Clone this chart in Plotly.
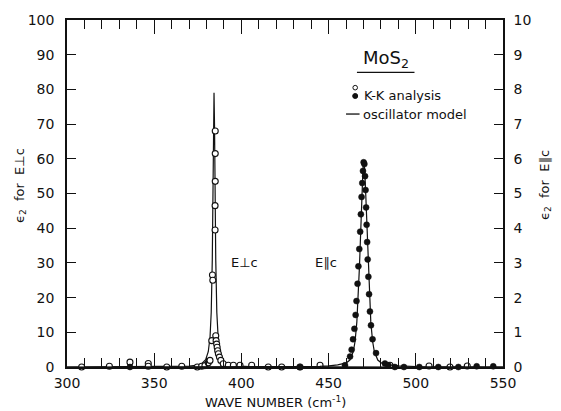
import plotly.graph_objects as go

# ---------------- data ----------------
# K-K analysis, E perpendicular c (open circles, left axis)
wn_perp_kk = [308.4, 324.3, 336.1, 346.6, 346.6, 357.2, 365.8, 371.5, 374.7, 377.2, 379.1,
              381.0, 382.0, 383.0, 383.4, 383.6, 385.0, 385.0, 385.0, 384.9, 384.9,
              385.3, 385.5, 385.8, 386.1, 386.4, 386.8, 387.4, 388.2, 389.6, 392.5,
              395.4, 399.2, 405.9, 415.4, 423.1, 433.6, 445.1, 456.9, 485.2, 507.6,
              519.6, 529.5]
eps_perp_kk = [0.0, 0.2, 1.4, 1.0, 0.2, 0.0, 0.2, -0.3, 0.0, 0.2, 0.4,
               1.2, 1.9, 7.6, 26.5, 25.0, 68.0, 61.5, 53.5, 46.5, 39.5,
               9.0, 7.6, 6.6, 5.7, 4.7, 3.8, 2.85, 1.9, 0.95, 0.5,
               0.5, 0.5, 0.5, 0.0, 0.0, 0.0, 0.5, -0.2, 0.5, 0.3,
               0.0, 0.3]

# K-K analysis, E parallel c (filled dots, right axis)
wn_par_kk = [336.1, 368.6, 401.7, 412.2, 423.1, 433.6, 440.3, 445.1, 448.9, 453.7,
             459.4, 462.3, 463.2, 464.0, 464.8, 465.5, 466.0, 466.6, 467.1, 467.6,
             468.1, 468.5, 468.9, 469.3, 469.7, 470.1, 470.5, 470.9, 471.2, 471.5,
             471.8, 472.1, 472.4, 472.8, 473.2, 473.7, 474.3, 475.2, 477.2, 482.3,
             484.2, 488.0, 493.2, 502.0, 512.9, 524.4, 534.9, 544.4]
eps_par_kk = [0.0, -0.03, -0.01, -0.05, -0.05, 0.0, -0.05, -0.05, -0.1, -0.1,
              0.05, 0.3, 0.5, 0.8, 1.1, 1.5, 1.9, 2.4, 2.9, 3.4,
              3.9, 4.4, 4.9, 5.3, 5.65, 5.9, 5.85, 5.5, 5.1, 4.6,
              4.1, 3.6, 3.1, 2.6, 2.1, 1.6, 1.2, 0.8, 0.4, 0.1,
              0.05, 0.0, 0.0, 0.0, 0.0, 0.0, 0.02, 0.02]

# oscillator model, E perpendicular c (left axis)
wn_perp_model = [300, 330, 350, 360, 370, 375, 377.5, 379.5, 381, 382, 382.7, 383.3, 383.7,
                 384.0, 384.3, 384.6, 384.9, 385.3, 385.9, 386.8, 388, 389.5, 392.5,
                 396.5, 404.5, 420, 450, 500, 550]
eps_perp_model = [0.0, 0.02, 0.04, 0.08, 0.23, 0.52, 1.08, 2.1, 4.4, 8.5, 15.8, 30.8, 50.6,
                  69.3, 79.0, 69.3, 50.6, 30.8, 15.8, 7.3, 3.5, 1.84, 0.75,
                  0.34, 0.12, 0.04, 0.01, 0.0, 0.0]

# oscillator model, E parallel c (right axis)
wn_par_model = [300, 400, 430, 445, 450.2, 455.2, 460.2, 462.2, 464.2, 465.2, 466.2, 466.7,
                467.2, 467.7, 468.2, 468.7, 469.2, 469.7, 470.2, 470.7, 471.2, 471.7,
                472.2, 472.7, 473.2, 473.7, 474.2, 475.2, 476.2, 478.2, 480.2, 485.2,
                490.2, 500, 520, 550]
eps_par_model = [0.0, 0.005, 0.01, 0.02, 0.03, 0.06, 0.12, 0.2, 0.45, 0.75, 1.3, 1.75,
                 2.3, 2.9, 3.6, 4.4, 5.1, 5.7, 5.95, 5.7, 5.1, 4.4,
                 3.6, 2.9, 2.3, 1.75, 1.3, 0.75, 0.45, 0.2, 0.12, 0.06,
                 0.03, 0.015, 0.005, 0.0]

x_ticks = [300, 350, 400, 450, 500, 550]
left_ticks = [0, 10, 20, 30, 40, 50, 60, 70, 80, 90, 100]
right_ticks = [0, 1, 2, 3, 4, 5, 6, 7, 8, 9, 10]

FONT = "DejaVu Sans"
BLACK = "#111111"

fig = go.Figure()

fig.add_trace(go.Scatter(x=wn_perp_model, y=eps_perp_model, mode="lines",
                         line=dict(color=BLACK, width=1.2), yaxis="y",
                         cliponaxis=False, showlegend=False))
fig.add_trace(go.Scatter(x=wn_perp_kk, y=eps_perp_kk, mode="markers",
                         marker=dict(symbol="circle", size=6, color="white",
                                     line=dict(color=BLACK, width=1.1)),
                         yaxis="y", cliponaxis=False, showlegend=False))
fig.add_trace(go.Scatter(x=wn_par_model, y=eps_par_model, mode="lines",
                         line=dict(color=BLACK, width=1.2), yaxis="y2",
                         cliponaxis=False, showlegend=False))
fig.add_trace(go.Scatter(x=wn_par_kk, y=eps_par_kk, mode="markers",
                         marker=dict(symbol="circle", size=6, color=BLACK,
                                     line=dict(color=BLACK, width=0.5)),
                         yaxis="y2", cliponaxis=False, showlegend=False))

axis_common = dict(showline=True, linecolor=BLACK, linewidth=1.5, ticks="inside",
                   tickcolor=BLACK, tickwidth=1, showgrid=False, zeroline=False,
                   tickfont=dict(family=FONT, size=14, color=BLACK))

fig.update_layout(
    width=561, height=411, autosize=False,
    margin=dict(l=67, r=58, t=16, b=44, pad=0),
    paper_bgcolor="white", plot_bgcolor="white",
    font=dict(family=FONT, color=BLACK),
    xaxis=dict(range=[300, 550], tickvals=x_ticks, ticklen=14, mirror="ticks",
               minor=dict(dtick=10, ticks="inside", ticklen=9, tickcolor=BLACK, tickwidth=1),
               ticklabelstandoff=2, **axis_common),
    yaxis=dict(range=[0, 100], tickvals=left_ticks, ticklen=9, ticklabelstandoff=8,
               **axis_common),
    yaxis2=dict(range=[0, 10], tickvals=right_ticks, ticklen=9, overlaying="y",
                side="right", ticklabelstandoff=6, **axis_common),
)

ann_font = dict(family=FONT, size=13, color=BLACK)
annotations = [
    dict(text="WAVE NUMBER (cm<sup>-1</sup>)", xref="paper", yref="paper",
         x=0.479, y=-0.10, showarrow=False, xanchor="center", yanchor="middle",
         font=dict(family=FONT, size=13, color=BLACK)),
    dict(text="ϵ<sub>2</sub>  for  E⊥c", xref="paper", yref="paper", x=-0.108, y=0.524,
         textangle=-90, showarrow=False, xanchor="center", yanchor="middle", font=ann_font),
    dict(text="ϵ<sub>2</sub>  for  E∥c", xref="paper", yref="paper", x=1.096, y=0.524,
         textangle=-90, showarrow=False, xanchor="center", yanchor="middle", font=ann_font),
    dict(text="E⊥c", xref="x", yref="y", x=402, y=30, showarrow=False,
         xanchor="center", yanchor="middle", font=ann_font),
    dict(text="E∥c", xref="x", yref="y", x=448.5, y=30, showarrow=False,
         xanchor="center", yanchor="middle", font=ann_font),
    dict(text="MoS<sub>2</sub>", xref="paper", yref="paper", x=0.732, y=0.889,
         showarrow=False, xanchor="center", yanchor="middle",
         font=dict(family=FONT, size=18, color=BLACK)),
    dict(text="K-K analysis", xref="paper", yref="paper", x=0.677, y=0.783,
         showarrow=False, xanchor="left", yanchor="middle", font=ann_font),
    dict(text="oscillator model", xref="paper", yref="paper", x=0.674, y=0.729,
         showarrow=False, xanchor="left", yanchor="middle", font=ann_font),
]
fig.update_layout(annotations=annotations)

shapes = [
    dict(type="line", xref="paper", yref="paper", x0=0.665, x1=0.797, y0=0.849, y1=0.849,
         line=dict(color=BLACK, width=1.3)),
    dict(type="circle", xref="paper", yref="paper", xsizemode="pixel", ysizemode="pixel",
         xanchor=0.661, yanchor=0.805, x0=-2.3, x1=2.3, y0=-2.3, y1=2.3,
         line=dict(color=BLACK, width=1), fillcolor="white"),
    dict(type="circle", xref="paper", yref="paper", xsizemode="pixel", ysizemode="pixel",
         xanchor=0.661, yanchor=0.781, x0=-2.5, x1=2.5, y0=-2.5, y1=2.5,
         line=dict(color=BLACK, width=1), fillcolor=BLACK),
    dict(type="line", xref="paper", yref="paper", x0=0.640, x1=0.671, y0=0.729, y1=0.729,
         line=dict(color=BLACK, width=1.3)),
]
fig.update_layout(shapes=shapes)

fig.write_html("out.html")
